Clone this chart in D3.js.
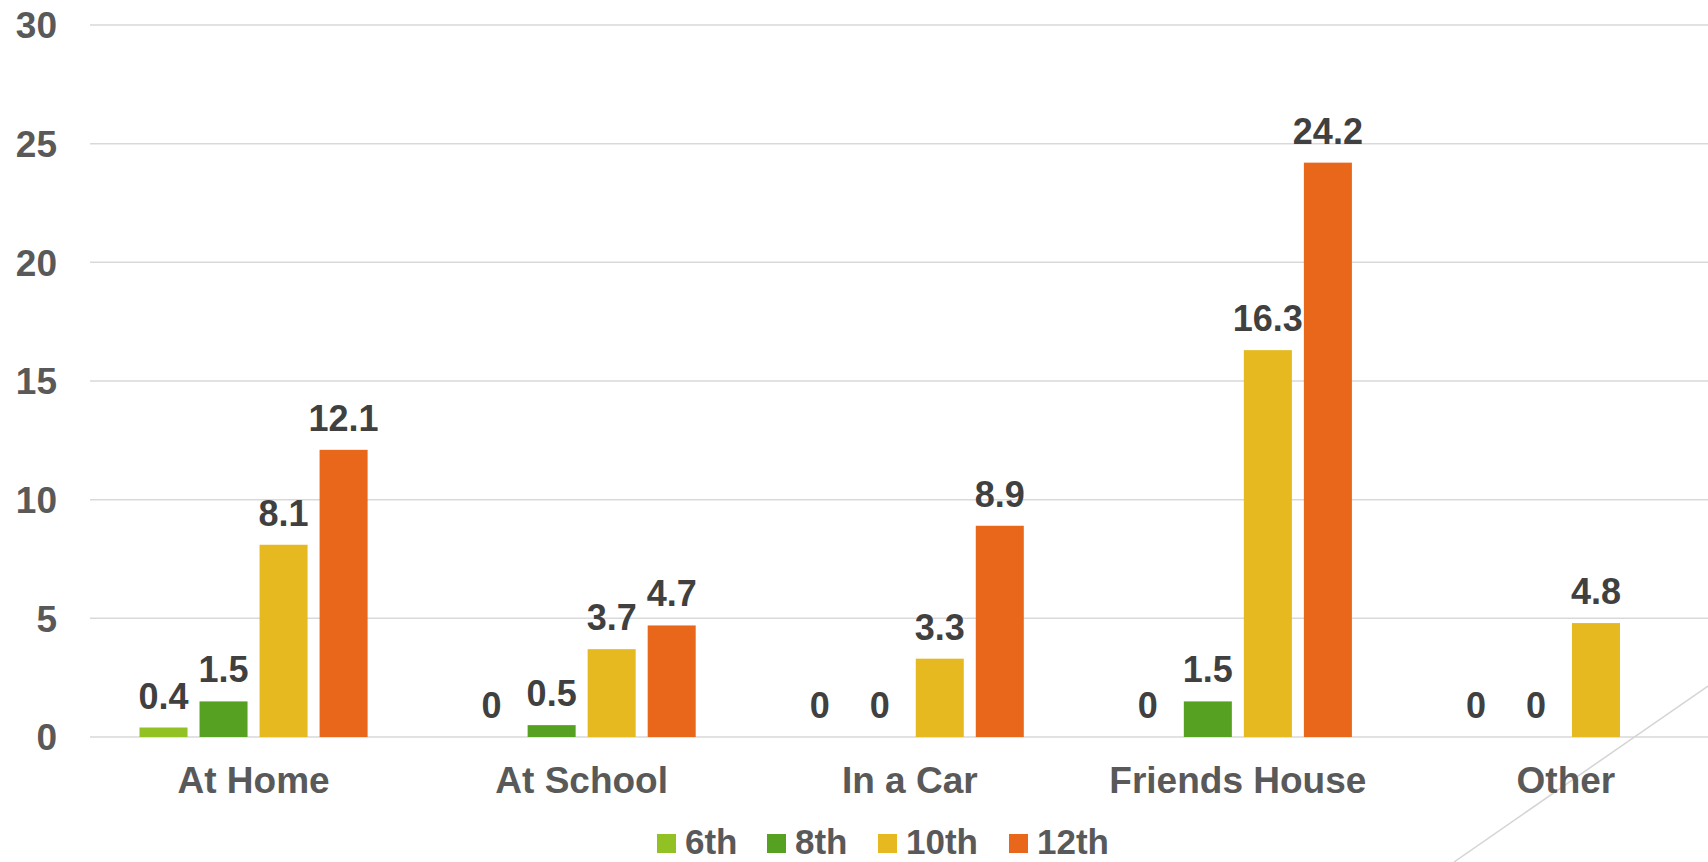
<!DOCTYPE html>
<html>
<head>
<meta charset="utf-8">
<script src="https://cdn.jsdelivr.net/npm/d3@7"></script>
<style>
  html, body { margin: 0; padding: 0; background: #fff; overflow: hidden; }
  svg { display: block; font-family: "Liberation Sans", Arial, sans-serif; font-weight: bold; }
</style>
</head>
<body>
<svg id="chart" width="1708" height="862"></svg>
<script>
const categories = ["At Home", "At School", "In a Car", "Friends House", "Other"];
const seriesNames = ["6th", "8th", "10th", "12th"];
const values6th = [0.4, 0, 0, 0, 0];
const values8th = [1.5, 0.5, 0, 1.5, 0];
const values10th = [8.1, 3.7, 3.3, 16.3, 4.8];
const values12th = [12.1, 4.7, 8.9, 24.2, null];
const seriesColors = ["#92C124", "#56A122", "#E5B91F", "#E8671A"];
const yTicks = [0, 5, 10, 15, 20, 25, 30];

const seriesValues = [values6th, values8th, values10th, values12th];

const svg = d3.select("#chart");
const W = 1708, H = 862;

const y = d3.scaleLinear().domain([0, 30]).range([737, 25]);
const x0 = d3.scaleBand().domain(categories).range([89.5, 1730]).paddingInner(0).paddingOuter(0);
const x1 = d3.scaleBand().domain(seriesNames).range([0, x0.bandwidth()]).paddingInner(0.2).paddingOuter(0.833);
const color = d3.scaleOrdinal().domain(seriesNames).range(seriesColors);

// gridlines
svg.append("g").selectAll("line").data(yTicks).join("line")
  .attr("x1", 90).attr("x2", W)
  .attr("y1", d => y(d)).attr("y2", d => y(d))
  .attr("stroke", "#D9D9D9").attr("stroke-width", 1.5);

// y tick labels
svg.append("g").selectAll("text").data(yTicks).join("text")
  .attr("x", 57).attr("y", d => y(d)).attr("dy", "0.36em")
  .attr("text-anchor", "end").attr("font-size", 37).attr("fill", "#595959")
  .text(d => d);

// decorative diagonal line
svg.append("line")
  .attr("x1", 1454).attr("y1", 862).attr("x2", 1708).attr("y2", 686)
  .attr("stroke", "#D4D4D4").attr("stroke-width", 1.5);

// bars
const flat = [];
categories.forEach((c, i) => {
  seriesNames.forEach((s, j) => {
    const v = seriesValues[j][i];
    if (v !== null && v !== undefined) flat.push({ cat: c, series: s, value: v });
  });
});

svg.append("g").selectAll("rect").data(flat).join("rect")
  .attr("x", d => x0(d.cat) + x1(d.series))
  .attr("width", x1.bandwidth())
  .attr("y", d => y(d.value))
  .attr("height", d => y(0) - y(d.value))
  .attr("fill", d => color(d.series));

// data labels
svg.append("g").selectAll("text").data(flat).join("text")
  .attr("x", d => x0(d.cat) + x1(d.series) + x1.bandwidth() / 2)
  .attr("y", d => y(d.value) - 19)
  .attr("text-anchor", "middle").attr("font-size", 36).attr("fill", "#404040")
  .text(d => d.value);

// category labels
svg.append("g").selectAll("text").data(categories).join("text")
  .attr("x", d => x0(d) + x0.bandwidth() / 2)
  .attr("y", 793)
  .attr("text-anchor", "middle").attr("font-size", 37).attr("fill", "#595959")
  .text(d => d);

// legend
const legendX = [657, 767, 878, 1009];
const lg = svg.append("g").selectAll("g").data(seriesNames).join("g")
  .attr("transform", (d, i) => `translate(${legendX[i]},0)`);
lg.append("rect").attr("x", 0).attr("y", 834).attr("width", 19).attr("height", 19)
  .attr("fill", d => color(d));
lg.append("text").attr("x", 28).attr("y", 854)
  .attr("font-size", 35).attr("fill", "#595959").text(d => d);
</script>
</body>
</html>
